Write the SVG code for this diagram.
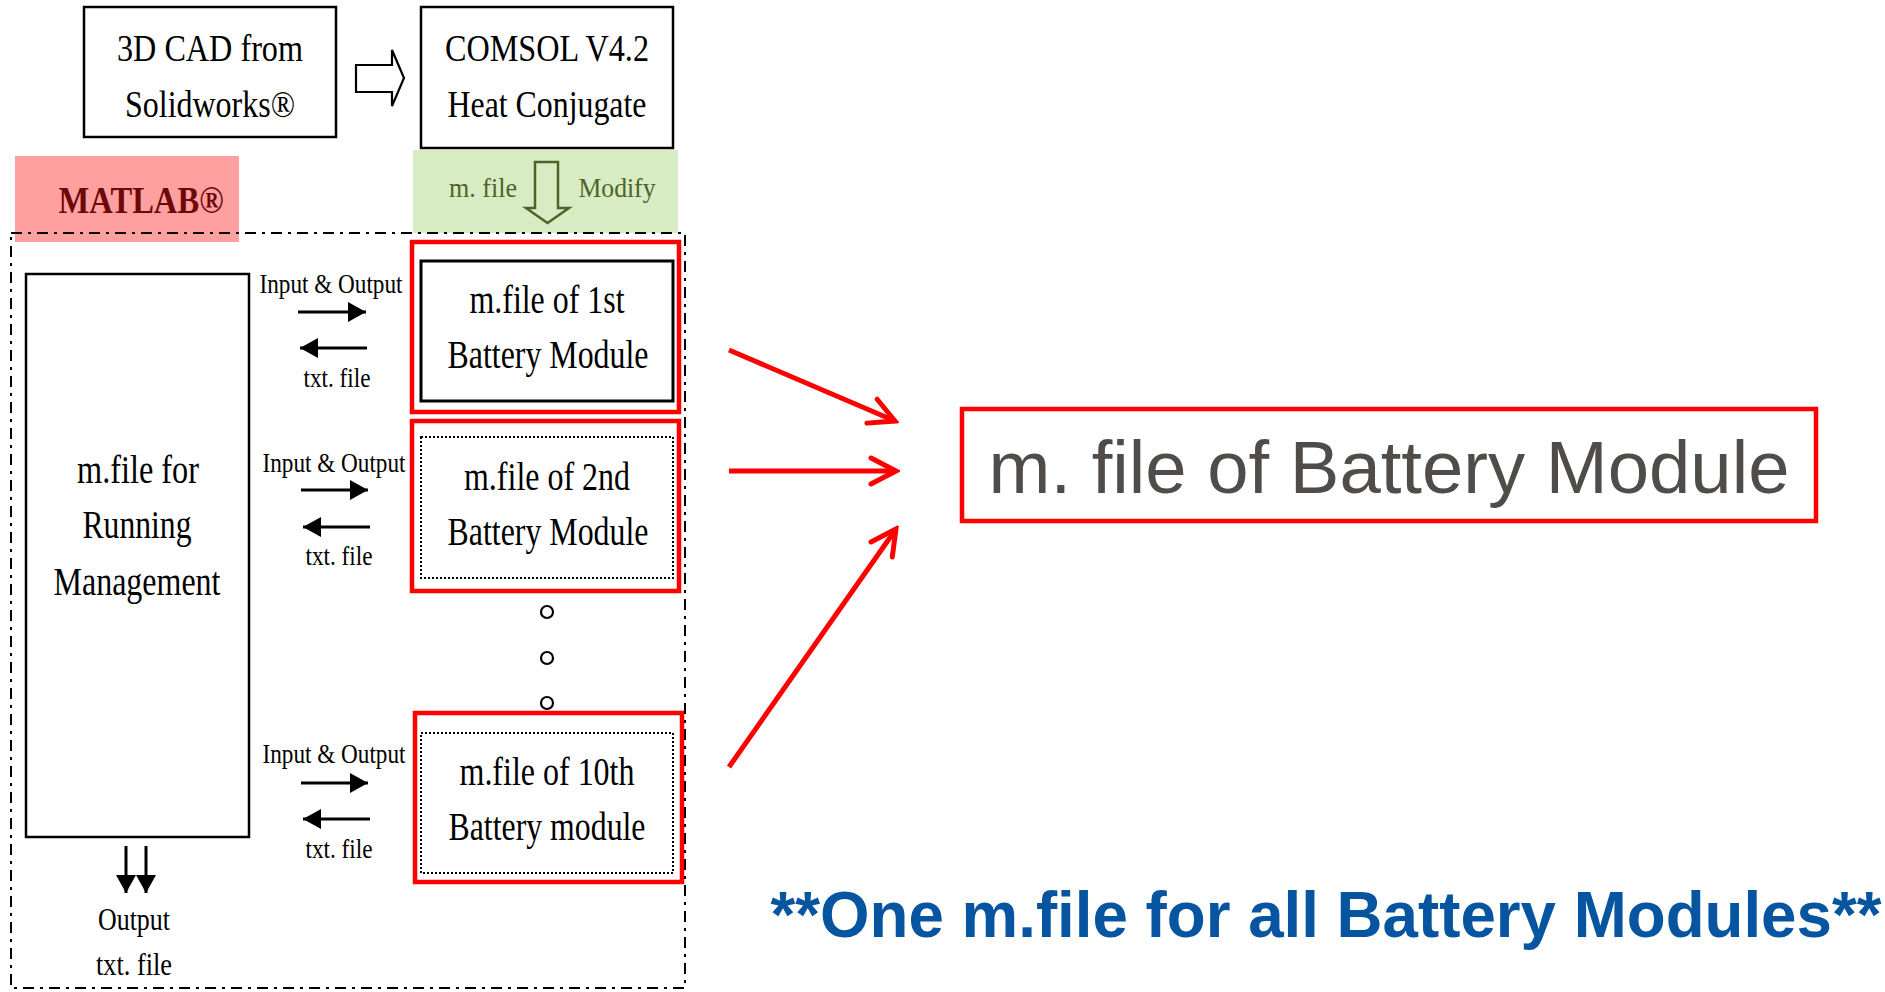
<svg xmlns="http://www.w3.org/2000/svg" width="1885" height="992" viewBox="0 0 1885 992">
  <style>
    .box { fill: #ffffff; stroke: #000000; stroke-width: 2.5; }
    .dotbox { fill: none; stroke: #000000; stroke-width: 2; stroke-dasharray: 2 2; }
    .redbox { fill: none; stroke: #ff0000; stroke-width: 4.5; }
    .serif { font-family: "Liberation Serif", "Times New Roman", serif; fill: #000000; text-anchor: middle; }
    .big { font-size: 38px; }
    .mod { font-size: 41px; }
    .small { font-size: 27px; }
    .wire { stroke: #000000; stroke-width: 3; fill: none; }
    .redwire { stroke: #ff0000; stroke-width: 5; fill: none; }
  </style>
  <defs>
    <marker id="headBlack" viewBox="0 0 18 20" refX="18" refY="10" markerWidth="18" markerHeight="20" markerUnits="userSpaceOnUse" orient="auto">
      <path d="M0 0 L18 10 L0 20 Z" fill="#000000"/>
    </marker>
    <marker id="headRed" viewBox="-28 -16 32 32" refX="0" refY="0" markerWidth="32" markerHeight="32" markerUnits="userSpaceOnUse" orient="auto">
      <path d="M-25 -13 L0 0 L-25 13" fill="none" stroke="#ff0000" stroke-width="5" stroke-linecap="round" stroke-linejoin="miter"/>
    </marker>
  </defs>

  <rect width="1885" height="992" fill="#ffffff"/>

  <!-- background bands -->
  <rect id="matlab-band" x="15" y="156" width="224" height="86" fill="#ffa0a0"/>
  <rect id="modify-band" x="413" y="150" width="265" height="83" fill="#d7ecc3"/>

  <!-- MATLAB area frame -->
  <rect id="matlab-frame" x="11" y="233" width="674" height="755" fill="none" stroke="#000000" stroke-width="2" stroke-dasharray="11 6 3 6"/>

  <g id="cad">
    <rect class="box" x="84" y="7" width="252" height="130"/>
    <text class="serif big" x="210" y="61" textLength="186" lengthAdjust="spacingAndGlyphs">3D CAD from</text>
    <text class="serif big" x="210" y="117" textLength="170" lengthAdjust="spacingAndGlyphs">Solidworks®</text>
  </g>

  <g id="comsol">
    <rect class="box" x="421" y="7" width="252" height="141"/>
    <text class="serif big" x="547" y="61" textLength="204" lengthAdjust="spacingAndGlyphs">COMSOL V4.2</text>
    <text class="serif big" x="547" y="117" textLength="199" lengthAdjust="spacingAndGlyphs">Heat Conjugate</text>
  </g>

  <g id="matlab-label">
    <text class="serif" x="141" y="213" font-size="38" font-weight="bold" style="fill:#6e0808" textLength="165" lengthAdjust="spacingAndGlyphs">MATLAB®</text>
  </g>

  <g id="modify-label">
    <text class="serif" x="483" y="197" font-size="28" style="fill:#4f6228" textLength="68" lengthAdjust="spacingAndGlyphs">m. file</text>
    <text class="serif" x="617" y="197" font-size="28" style="fill:#4f6228" textLength="77" lengthAdjust="spacingAndGlyphs">Modify</text>
  </g>

  <g id="running-management">
    <rect class="box" x="26" y="274" width="223" height="563"/>
    <text class="serif mod" x="138" y="483" textLength="122" lengthAdjust="spacingAndGlyphs">m.file for</text>
    <text class="serif mod" x="137" y="538" textLength="109" lengthAdjust="spacingAndGlyphs">Running</text>
    <text class="serif mod" x="137" y="595" textLength="167" lengthAdjust="spacingAndGlyphs">Management</text>
  </g>

  <g id="module-1">
    <rect class="redbox" x="412" y="242" width="267" height="170"/>
    <rect class="box" x="421" y="261" width="252" height="140" style="stroke-width:3"/>
    <text class="serif mod" x="547" y="313" textLength="155" lengthAdjust="spacingAndGlyphs">m.file of 1st</text>
    <text class="serif mod" x="548" y="368" textLength="201" lengthAdjust="spacingAndGlyphs">Battery Module</text>
  </g>

  <g id="module-2">
    <rect class="redbox" x="412" y="421" width="267" height="170"/>
    <rect class="dotbox" x="421" y="437" width="252" height="141"/>
    <text class="serif mod" x="547" y="490" textLength="166" lengthAdjust="spacingAndGlyphs">m.file of 2nd</text>
    <text class="serif mod" x="548" y="545" textLength="201" lengthAdjust="spacingAndGlyphs">Battery Module</text>
  </g>

  <g id="ellipsis">
    <circle cx="547" cy="612" r="6" fill="none" stroke="#000000" stroke-width="2.2"/>
    <circle cx="547" cy="658" r="6" fill="none" stroke="#000000" stroke-width="2.2"/>
    <circle cx="547" cy="703" r="6" fill="none" stroke="#000000" stroke-width="2.2"/>
  </g>

  <g id="module-10">
    <rect class="redbox" x="415" y="713" width="267" height="169"/>
    <rect class="dotbox" x="421" y="733" width="252" height="140"/>
    <text class="serif mod" x="547" y="785" textLength="175" lengthAdjust="spacingAndGlyphs">m.file of 10th</text>
    <text class="serif mod" x="547" y="840" textLength="197" lengthAdjust="spacingAndGlyphs">Battery module</text>
  </g>

  <g id="generic-module">
    <rect class="redbox" x="962" y="409" width="854" height="112"/>
    <text x="1389" y="493" font-family="'Liberation Sans', Arial, sans-serif" font-size="74" fill="#4f4c4a" text-anchor="middle" textLength="801" lengthAdjust="spacingAndGlyphs">m. file of Battery Module</text>
  </g>

  <g id="summary">
    <text x="1326" y="937" font-family="'Liberation Sans', Arial, sans-serif" font-size="64" font-weight="bold" fill="#0755a1" text-anchor="middle" textLength="1111" lengthAdjust="spacingAndGlyphs">**One m.file for all Battery Modules**</text>
  </g>

  <g id="connectors">
    <!-- hollow block arrow: CAD to COMSOL -->
    <path d="M356 65 L392 65 L392 50 L404 78 L392 106 L392 92 L356 92 Z" fill="#ffffff" stroke="#000000" stroke-width="2.2" stroke-linejoin="miter"/>
    <!-- hollow block arrow: COMSOL to module m.file -->
    <path d="M535 162 L558 162 L558 208 L569 208 L547.5 223 L526 208 L535 208 Z" fill="none" stroke="#4f6228" stroke-width="2.5"/>

    <!-- exchange with module 1 -->
    <text class="serif small" x="331" y="293" textLength="143" lengthAdjust="spacingAndGlyphs">Input &amp; Output</text>
    <line class="wire" x1="298" y1="312" x2="366" y2="312" marker-end="url(#headBlack)"/>
    <line class="wire" x1="367" y1="348" x2="300" y2="348" marker-end="url(#headBlack)"/>
    <text class="serif small" x="337" y="387" textLength="67" lengthAdjust="spacingAndGlyphs">txt. file</text>

    <!-- exchange with module 2 -->
    <text class="serif small" x="334" y="472" textLength="143" lengthAdjust="spacingAndGlyphs">Input &amp; Output</text>
    <line class="wire" x1="301" y1="490" x2="368" y2="490" marker-end="url(#headBlack)"/>
    <line class="wire" x1="370" y1="527" x2="303" y2="527" marker-end="url(#headBlack)"/>
    <text class="serif small" x="339" y="565" textLength="67" lengthAdjust="spacingAndGlyphs">txt. file</text>

    <!-- exchange with module 10 -->
    <text class="serif small" x="334" y="763" textLength="143" lengthAdjust="spacingAndGlyphs">Input &amp; Output</text>
    <line class="wire" x1="301" y1="783" x2="368" y2="783" marker-end="url(#headBlack)"/>
    <line class="wire" x1="370" y1="819" x2="303" y2="819" marker-end="url(#headBlack)"/>
    <text class="serif small" x="339" y="858" textLength="67" lengthAdjust="spacingAndGlyphs">txt. file</text>

    <!-- output of the run manager -->
    <line class="wire" x1="126" y1="846" x2="126" y2="893" marker-end="url(#headBlack)"/>
    <line class="wire" x1="146" y1="846" x2="146" y2="893" marker-end="url(#headBlack)"/>
    <text class="serif" x="134" y="930" font-size="31" textLength="72" lengthAdjust="spacingAndGlyphs">Output</text>
    <text class="serif" x="134" y="975" font-size="31" textLength="76" lengthAdjust="spacingAndGlyphs">txt. file</text>

    <!-- modules merged into one m.file -->
    <line class="redwire" x1="729" y1="350" x2="895" y2="421" marker-end="url(#headRed)"/>
    <line class="redwire" x1="729" y1="471" x2="896" y2="471" marker-end="url(#headRed)"/>
    <line class="redwire" x1="729" y1="767" x2="896" y2="529" marker-end="url(#headRed)"/>
  </g>
</svg>
